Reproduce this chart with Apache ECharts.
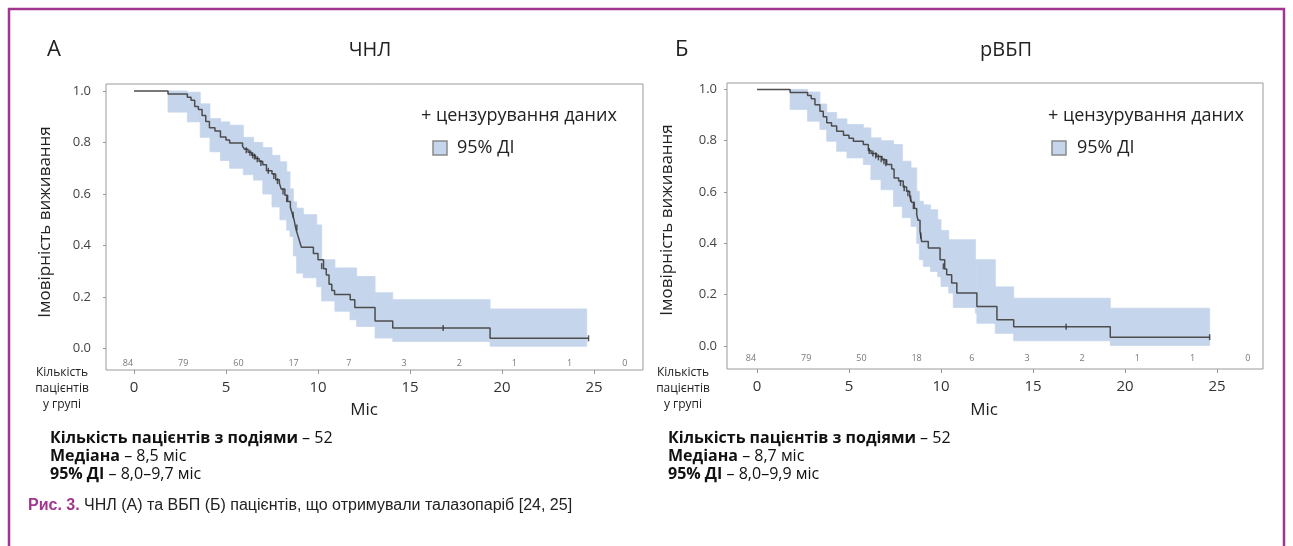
<!DOCTYPE html>
<html>
<head>
<meta charset="utf-8">
<script src="https://cdn.jsdelivr.net/npm/echarts@6/dist/echarts.min.js"></script>
<style>
html, body { margin: 0; padding: 0; background: #fff; }
#chart { width: 1293px; height: 546px; }
</style>
</head>
<body>
<div id="chart"></div>
<script>
/* ЧНЛ (А): крива Каплана-Мейєра [міс, ймовірність] */
var osCurve = [[0,1.0],[1.85,0.988],[2.9,0.976],[3.1,0.964],[3.3,0.94],[3.5,0.928],[3.7,0.905],[3.9,0.881],[4.1,0.857],[4.4,0.845],[4.7,0.821],[5.0,0.81],[5.2,0.798],[5.9,0.786],[6.0,0.774],[6.2,0.762],[6.4,0.75],[6.6,0.738],[6.8,0.726],[7.0,0.714],[7.2,0.69],[7.5,0.678],[7.7,0.655],[7.9,0.643],[8.0,0.619],[8.2,0.595],[8.35,0.571],[8.5,0.548],[8.6,0.524],[8.7,0.5],[8.8,0.464],[8.9,0.44],[9.0,0.417],[9.1,0.393],[9.75,0.369],[10.0,0.345],[10.3,0.31],[10.45,0.286],[10.6,0.25],[10.75,0.226],[10.9,0.21],[11.75,0.19],[12.0,0.16],[13.1,0.107],[14.06,0.08],[19.35,0.04],[24.7,0.04]];
var osCensor = [[6.1,0.77],[6.3,0.76],[6.45,0.75],[6.55,0.745],[6.7,0.735],[6.9,0.72],[7.3,0.69],[7.6,0.67],[7.8,0.65],[8.1,0.61],[8.3,0.58],[8.65,0.52],[8.85,0.47],[10.2,0.32],[16.8,0.08],[24.7,0.04]];
/* 95% ДІ: [від, до, нижня, верхня] */
var osBand = [[1.85,2.9,0.918,1.0],[2.9,3.6,0.88,0.995],[3.6,4.13,0.82,0.95],[4.13,4.7,0.764,0.893],[4.7,5.2,0.73,0.88],[5.2,5.94,0.70,0.867],[5.94,6.5,0.675,0.82],[6.5,7.0,0.654,0.80],[7.0,7.5,0.60,0.78],[7.5,7.93,0.55,0.75],[7.93,8.3,0.50,0.725],[8.3,8.48,0.46,0.686],[8.48,8.66,0.435,0.62],[8.66,8.84,0.36,0.57],[8.84,9.2,0.293,0.545],[9.2,9.93,0.275,0.52],[9.93,10.2,0.24,0.48],[10.2,10.92,0.185,0.345],[10.92,11.74,0.145,0.313],[11.74,12.1,0.112,0.313],[12.1,13.1,0.086,0.28],[13.1,14.06,0.041,0.217],[14.06,19.35,0.028,0.19],[19.35,24.6,0.009,0.154]];
var osAtRisk = [84,79,60,17,7,3,2,1,1,0];

/* рВБП (Б) */
var pfsCurve = [[0,1.0],[1.8,0.988],[2.75,0.976],[2.95,0.964],[3.15,0.94],[3.42,0.915],[3.6,0.893],[3.79,0.87],[4.05,0.857],[4.33,0.837],[4.7,0.821],[5.0,0.81],[5.24,0.798],[5.78,0.785],[6.05,0.762],[6.2,0.75],[6.5,0.738],[6.8,0.726],[7.05,0.707],[7.32,0.69],[7.45,0.655],[7.7,0.643],[7.95,0.62],[8.13,0.603],[8.3,0.583],[8.4,0.56],[8.55,0.536],[8.68,0.512],[8.75,0.49],[8.86,0.446],[8.95,0.407],[9.31,0.382],[9.95,0.336],[10.2,0.3],[10.31,0.277],[10.58,0.245],[10.86,0.206],[11.95,0.154],[13.04,0.102],[13.95,0.075],[19.2,0.034],[24.6,0.034]];
var pfsCensor = [[6.1,0.76],[6.3,0.75],[6.45,0.742],[6.6,0.735],[6.75,0.728],[6.9,0.72],[7.0,0.712],[7.8,0.635],[8.0,0.615],[8.2,0.595],[8.35,0.575],[8.5,0.545],[8.9,0.43],[10.13,0.31],[16.8,0.075],[24.6,0.034]];
var pfsBand = [[1.8,2.75,0.922,1.0],[2.75,3.42,0.876,0.99],[3.42,3.79,0.844,0.943],[3.79,4.33,0.798,0.91],[4.33,4.89,0.759,0.885],[4.89,5.78,0.733,0.863],[5.78,6.19,0.707,0.85],[6.19,6.74,0.648,0.811],[6.74,7.42,0.609,0.80],[7.42,7.9,0.544,0.785],[7.9,8.37,0.50,0.72],[8.37,8.68,0.466,0.694],[8.68,8.82,0.40,0.603],[8.82,9.04,0.336,0.564],[9.04,9.43,0.31,0.55],[9.43,9.82,0.29,0.531],[9.82,10.0,0.27,0.492],[10.0,10.42,0.232,0.45],[10.42,10.67,0.206,0.414],[10.67,11.87,0.15,0.414],[11.87,11.95,0.128,0.336],[11.95,12.95,0.088,0.336],[12.95,13.95,0.049,0.23],[13.95,19.2,0.02,0.186],[19.2,24.6,0.002,0.147]];
var pfsAtRisk = [84,79,50,18,6,3,2,1,1,0];

var atRiskMonths = [0,3,6,9,12,15,18,21,24,27];
var monthTicks = [0,5,10,15,20,25];
var probTicks = [0,0.2,0.4,0.6,0.8,1.0];

var FONT = "'Open Sans', 'Noto Sans', sans-serif";
var BAND = '#c5d5ec';

function bandItem(params, api) {
	var p0 = api.coord([api.value(0), api.value(3)]);
	var p1 = api.coord([api.value(1), api.value(2)]);
	return {
		type: 'rect',
		shape: { x: p0[0], y: p0[1], width: p1[0] - p0[0], height: p1[1] - p0[1] },
		style: { fill: BAND, stroke: BAND, lineWidth: 0.8 }
	};
}

function atRiskData(counts, y) {
	return counts.map(function (n, i) { return [atRiskMonths[i], y, n]; });
}

function xAxisFor(idx, min, max) {
	return {
		gridIndex: idx, type: 'value', min: min, max: max, position: 'bottom',
		axisLine: { show: false, onZero: false }, splitLine: { show: false },
		axisTick: { show: true, length: 4, customValues: monthTicks, lineStyle: { color: '#999' } },
		axisLabel: { customValues: monthTicks, margin: 10, fontSize: 15, color: '#333', fontFamily: FONT }
	};
}

function yAxisFor(idx, min, max, margin) {
	return {
		gridIndex: idx, type: 'value', min: min, max: max, position: 'left',
		axisLine: { show: false, onZero: false }, splitLine: { show: false },
		axisTick: { show: true, length: 3, customValues: probTicks, lineStyle: { color: '#999' } },
		axisLabel: {
			customValues: probTicks, margin: margin, fontSize: 13, color: '#444', fontFamily: FONT,
			formatter: function (v) { return v.toFixed(1); }
		}
	};
}

function seriesFor(idx, curve, censor, band, atRisk, atRiskY) {
	return [{
		type: 'custom', xAxisIndex: idx, yAxisIndex: idx,
		renderItem: bandItem, data: band, encode: { x: [0, 1], y: [2, 3] }, z: 1
	}, {
		type: 'line', xAxisIndex: idx, yAxisIndex: idx, step: 'end', showSymbol: false,
		data: curve, lineStyle: { color: '#4d4d4d', width: 1.5 }, z: 3
	}, {
		type: 'scatter', xAxisIndex: idx, yAxisIndex: idx, symbol: 'rect', symbolSize: [1.5, 6],
		data: censor, itemStyle: { color: '#333' }, z: 4
	}, {
		type: 'scatter', xAxisIndex: idx, yAxisIndex: idx, symbolSize: 1,
		data: atRiskData(atRisk, atRiskY), itemStyle: { color: 'rgba(0,0,0,0)' }, z: 5,
		label: {
			show: true, position: 'inside', offset: [-6, 0], fontSize: 9, color: '#555', fontFamily: FONT,
			formatter: function (p) { return p.value[2]; }
		}
	}];
}

function txt(x, y, text, font, opts) {
	opts = opts || {};
	return {
		type: 'text', x: x, y: y, rotation: opts.rotation || 0, z: 10,
		style: {
			text: text, font: font, fill: opts.fill || '#222',
			textAlign: opts.align || 'left', textVerticalAlign: 'middle',
			align: opts.align || 'left', verticalAlign: 'middle', rich: opts.rich
		}
	};
}

var statRich = {
	b: { font: 'bold 16px ' + FONT, fill: '#111' },
	n: { font: '16px ' + FONT, fill: '#111' }
};

var chart = echarts.init(document.getElementById('chart'));
chart.setOption({
	animation: false,
	backgroundColor: '#fff',
	grid: [
		{ left: 106, top: 84, width: 537, height: 286, show: true, borderColor: '#9a9a9a', borderWidth: 1, backgroundColor: 'transparent' },
		{ left: 727, top: 83, width: 536, height: 286, show: true, borderColor: '#9a9a9a', borderWidth: 1, backgroundColor: 'transparent' }
	],
	xAxis: [xAxisFor(0, -1.52, 27.66), xAxisFor(1, -1.63, 27.5)],
	yAxis: [yAxisFor(0, -0.083, 1.027, 15), yAxisFor(1, -0.09, 1.025, 10)],
	series: seriesFor(0, osCurve, osCensor, osBand, osAtRisk, -0.056)
		.concat(seriesFor(1, pfsCurve, pfsCensor, pfsBand, pfsAtRisk, -0.047)),
	graphic: [
		{ type: 'rect', shape: { x: 9, y: 9, width: 1275, height: 600 }, style: { fill: 'none', stroke: '#a2358f', lineWidth: 2.5 }, z: 0 },

		txt(47, 50, 'А', '22px ' + FONT),
		txt(370, 50, 'ЧНЛ', '20px ' + FONT, { align: 'center' }),
		txt(675, 50, 'Б', '22px ' + FONT),
		txt(1006, 50, 'рВБП', '20px ' + FONT, { align: 'center' }),

		txt(45, 222, 'Імовірність виживання', '17px ' + FONT, { align: 'center', rotation: Math.PI / 2 }),
		txt(667, 220, 'Імовірність виживання', '17px ' + FONT, { align: 'center', rotation: Math.PI / 2 }),

		txt(421, 116, '+ цензурування даних', '18px ' + FONT),
		{ type: 'rect', shape: { x: 433, y: 141, width: 14, height: 14 }, style: { fill: BAND, stroke: '#8a8a8a', lineWidth: 1.5 }, z: 10 },
		txt(457, 148, '95% ДІ', '18px ' + FONT),
		txt(1048, 116, '+ цензурування даних', '18px ' + FONT),
		{ type: 'rect', shape: { x: 1052, y: 141, width: 14, height: 14 }, style: { fill: BAND, stroke: '#8a8a8a', lineWidth: 1.5 }, z: 10 },
		txt(1077, 148, '95% ДІ', '18px ' + FONT),

		txt(62, 373, 'Кількість', '12px ' + FONT, { align: 'center' }),
		txt(62, 389, 'пацієнтів', '12px ' + FONT, { align: 'center' }),
		txt(62, 405, 'у групі', '12px ' + FONT, { align: 'center' }),
		txt(683, 373, 'Кількість', '12px ' + FONT, { align: 'center' }),
		txt(683, 389, 'пацієнтів', '12px ' + FONT, { align: 'center' }),
		txt(683, 405, 'у групі', '12px ' + FONT, { align: 'center' }),

		txt(364, 410, 'Міс', '17px ' + FONT, { align: 'center' }),
		txt(984, 410, 'Міс', '17px ' + FONT, { align: 'center' }),

		txt(50, 438, '{b|Кількість пацієнтів з подіями} {n|– 52}', '16px ' + FONT, { rich: statRich }),
		txt(50, 456, '{b|Медіана} {n|– 8,5 міс}', '16px ' + FONT, { rich: statRich }),
		txt(50, 474, '{b|95% ДІ} {n|– 8,0–9,7 міс}', '16px ' + FONT, { rich: statRich }),
		txt(668, 438, '{b|Кількість пацієнтів з подіями} {n|– 52}', '16px ' + FONT, { rich: statRich }),
		txt(668, 456, '{b|Медіана} {n|– 8,7 міс}', '16px ' + FONT, { rich: statRich }),
		txt(668, 474, '{b|95% ДІ} {n|– 8,0–9,9 міс}', '16px ' + FONT, { rich: statRich }),

		txt(28, 506, '{r|Рис. 3.} {c|ЧНЛ (А) та ВБП (Б) пацієнтів, що отримували талазопаріб [24, 25]}', '16px Liberation Sans', {
			rich: {
				r: { font: 'bold 16px "Liberation Sans", Arial, sans-serif', fill: '#a2358f' },
				c: { font: '16px "Liberation Sans", Arial, sans-serif', fill: '#222' }
			}
		})
	]
});
</script>
</body>
</html>
